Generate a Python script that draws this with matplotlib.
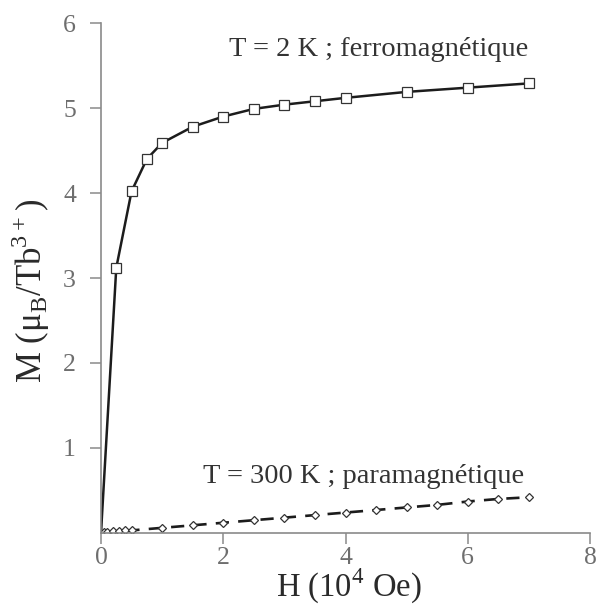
import numpy as np
import matplotlib
matplotlib.use("Agg")
import matplotlib.pyplot as plt

plt.rcParams['font.family'] = ['Liberation Serif', 'DejaVu Serif']
plt.rcParams['mathtext.fontset'] = 'custom'
plt.rcParams['mathtext.rm'] = 'Liberation Serif'

# T = 2 K, ferromagnetic branch (H in 10^4 Oe, M in muB/Tb3+)
h_ferro = [0.0, 0.25, 0.5, 0.75, 1.0, 1.5, 2.0, 2.5, 3.0, 3.5, 4.0, 5.0, 6.0, 7.0]
m_ferro = [0.0, 3.12, 4.02, 4.40, 4.59, 4.78, 4.90, 4.99, 5.04, 5.08, 5.12, 5.19, 5.24, 5.29]

# T = 300 K, paramagnetic branch
h_para = [0.05, 0.1, 0.2, 0.3, 0.4, 0.5, 1.0, 1.5, 2.0, 2.5, 3.0, 3.5, 4.0,
          4.5, 5.0, 5.5, 6.0, 6.5, 7.0]
m_para = [0.01, 0.01, 0.02, 0.02, 0.03, 0.03, 0.06, 0.09, 0.12, 0.15, 0.18,
          0.21, 0.24, 0.27, 0.30, 0.33, 0.37, 0.40, 0.42]

x_ticks = [0, 2, 4, 6, 8]
y_ticks = [1, 2, 3, 4, 5, 6]

ink = '#1c1c1c'
grey = '#6e6e6e'

fig = plt.figure(figsize=(5.99, 6.07), dpi=100)
ax = fig.add_axes([0.1686, 0.122, 0.8164, 0.84])

ax.plot(h_ferro, m_ferro, color=ink, lw=1.8, marker='s', ms=6.5,
        mfc='white', mec='#333333', mew=0.9, markevery=slice(1, None))
ax.plot(h_para, m_para, color=ink, lw=1.9, dashes=(5, 3.5), marker='D',
        ms=4.2, mfc='white', mec='#333333', mew=0.9)
# steep rise at origin of the 2 K curve
ax.plot([0.0, 0.0], [0.0, 0.12], color=ink, lw=1.6)

ax.text(4.54, 5.61, 'T = 2 K ; ferromagnétique', fontsize=20.5,
        color='#333333', ha='center', va='baseline')
ax.text(4.29, 0.59, 'T = 300 K ; paramagnétique', fontsize=20.5,
        color='#333333', ha='center', va='baseline')

ax.set_xlim(0, 8)
ax.set_ylim(0, 6)
ax.set_xticks(x_ticks)
ax.set_yticks(y_ticks)
for s in ['top', 'right']:
    ax.spines[s].set_visible(False)
for s in ['left', 'bottom']:
    ax.spines[s].set_color('#8a8a8a')
    ax.spines[s].set_linewidth(1.2)
ax.tick_params(direction='out', length=8, width=1.1, colors='#8a8a8a',
               labelcolor=grey, labelsize=18.5)
ax.tick_params(axis='y', pad=10)
ax.tick_params(axis='x', pad=2)

ax.set_xlabel('H (10$^\\mathregular{4}$ Oe)', fontsize=23.5, color='#2a2a2a')
ax.xaxis.set_label_coords(0.506, -0.066)
ax.set_ylabel('M (μ$_\\mathregular{B}$/Tb$^\\mathregular{3+}$)', fontsize=25,
              color='#2a2a2a')
ax.yaxis.set_label_coords(-0.10, 0.475)

fig.savefig('out.png', dpi=100, facecolor='white')
